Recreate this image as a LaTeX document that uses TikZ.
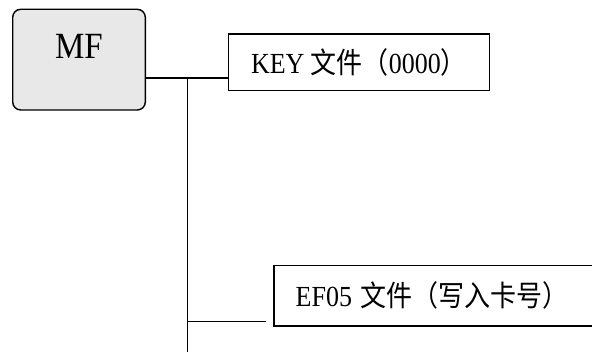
\documentclass[tikz,border=0pt]{standalone}
\usepackage{fontspec}
\setmainfont{Liberation Serif}
\newfontfamily\cjk{Noto Sans CJK SC}
\usetikzlibrary{calc}
\newcommand{\tallx}[1]{\scalebox{1}[1.12]{#1}}
\begin{document}
\begin{tikzpicture}[x=1pt,y=1pt,
  mfbox/.style={draw=black, line width=1.4pt, fill=black!9, rounded corners=8pt, minimum width=132.6pt, minimum height=100.7pt, inner sep=0pt},
  filebox/.style={draw=black, line width=1.4pt, fill=white, inner sep=0pt, font=\fontsize{26}{30}\selectfont},
  wire/.style={draw=black, line width=1.4pt}]
\useasboundingbox (0,0) rectangle (592,-352);
\clip (0,0) rectangle (592,-352);
\fill[white] (0,0) rectangle (592,-352);
\node[mfbox] (mf) at (79,-59.65) {};
\node[anchor=base, inner sep=0pt, font=\fontsize{33}{36}\selectfont] (mftext) at (79,-58.3) {\tallx{MF}};
\node[filebox, minimum width=260.6pt, minimum height=56.7pt] (key) at (359,-62.35) {\tallx{KEY {\cjk 文件（}0000{\cjk ）}}};
\node[filebox, anchor=west, text width=305pt, align=left, inner xsep=21.7pt, minimum height=60.3pt] (ef) at (273.3,-295.85) {\tallx{EF05 {\cjk 文件（写入卡号）}}};
\coordinate (j1) at (187.3,-78);
\coordinate (j2) at (187.3,-321.7);
\coordinate (bot) at (187.3,-360);
\coordinate (j2end) at (265.7,-321.7);
\draw[wire] (mf.east |- j1) -- (key.west |- j1);
\draw[wire] (j1) -- (bot);
\draw[wire] (j2) -- (j2end);
\end{tikzpicture}
\end{document}
